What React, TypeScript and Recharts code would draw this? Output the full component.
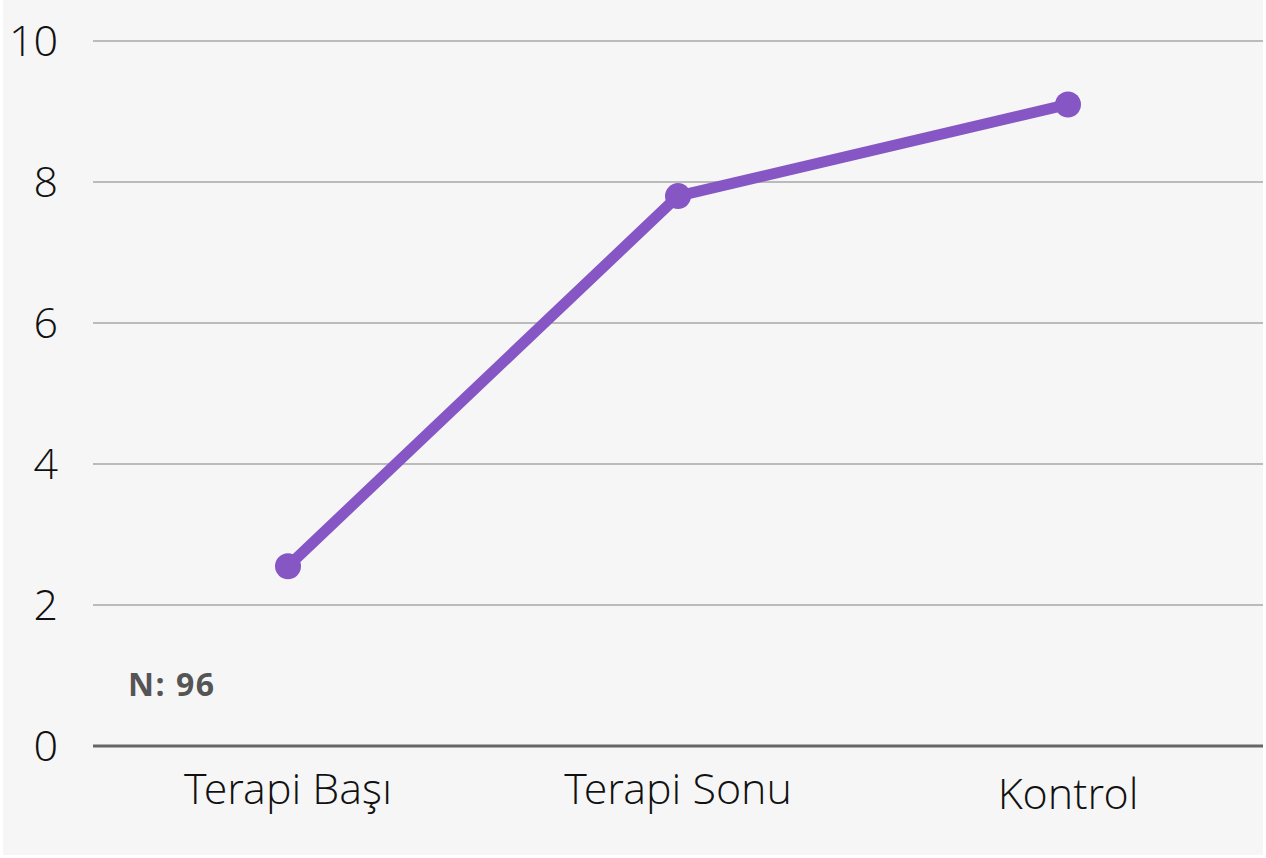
import { LineChart, Line, XAxis, YAxis, CartesianGrid, ReferenceLine } from 'recharts'

const phases = ['Terapi Başı', 'Terapi Sonu', 'Kontrol']
const scores = [2.55, 7.8, 9.1]
const yTicks = [0, 2, 4, 6, 8, 10]
const sampleNote = 'N: 96'

const data = phases.map((phase, i) => ({ phase, score: scores[i] }))

const FONT = '"Open Sans Light", "Open Sans", "Noto Sans", sans-serif'

function PhaseTick(props: any) {
  const { x, y, payload, index } = props
  // last label sits slightly lower in the original
  const shift = index === phases.length - 1 ? 5 : 0
  return (
    <text
      x={x}
      y={y + shift}
      dy="0.71em"
      textAnchor="middle"
      fontFamily={FONT}
      fontWeight={300}
      fontSize={43}
      fill="#111"
    >
      {payload.value}
    </text>
  )
}

export default function App() {
  return (
    <div style={{ position: 'absolute', left: 0, top: 0, width: 1266, height: 858, background: '#fff' }}>
      <div style={{ position: 'absolute', left: 3, top: 0, width: 1260, height: 855, background: '#f6f6f6' }} />
      <div style={{ position: 'absolute', left: 0, top: 0 }}>
        <LineChart
          width={1266}
          height={858}
          data={data}
          margin={{ top: 41, right: 3, bottom: 0, left: 0 }}
        >
          <CartesianGrid vertical={false} stroke="#bbbbbb" strokeWidth={2} />
          <XAxis
            dataKey="phase"
            axisLine={false}
            tickLine={false}
            tickSize={0}
            tickMargin={27}
            height={112}
            interval={0}
            padding={{ left: 195, right: 195 }}
            tick={<PhaseTick />}
          />
          <YAxis
            width={93}
            domain={[0, 10]}
            ticks={yTicks}
            axisLine={false}
            tickLine={false}
            tickSize={0}
            tickMargin={35}
            tick={{ fontFamily: FONT, fontWeight: 300, fontSize: 43, fill: '#111' }}
          />
          <ReferenceLine y={0} stroke="#666" strokeWidth={3} />
          <Line
            type="linear"
            dataKey="score"
            stroke="#8656c5"
            strokeWidth={11}
            dot={{ r: 13, fill: '#8656c5', stroke: 'none' }}
            activeDot={false}
            isAnimationActive={false}
          />
        </LineChart>
      </div>
      <div
        style={{
          position: 'absolute',
          left: 128,
          top: 668,
          fontFamily: '"Open Sans", sans-serif',
          fontWeight: 700,
          fontSize: 32,
          letterSpacing: 1.5,
          color: '#555',
          lineHeight: '32px',
        }}
      >
        {sampleNote}
      </div>
    </div>
  )
}
